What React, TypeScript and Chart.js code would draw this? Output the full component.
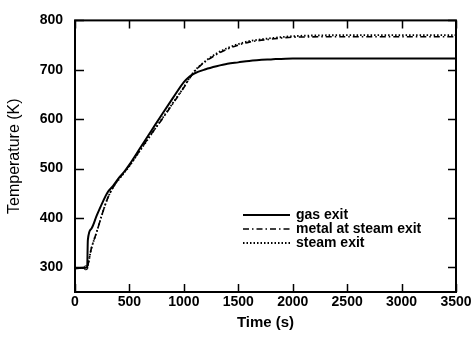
import React, { useEffect, useRef } from "react";
import { Chart, registerables } from "chart.js";

Chart.register(...registerables);

// ---- data ----
const gasTime = [0, 100, 112, 118, 150, 200, 250, 300, 350, 400, 450, 500, 600, 700, 800, 900, 1000, 1050, 1100, 1200, 1300, 1400, 1500, 1600, 1800, 2000, 2500, 3000, 3500];
const gasExit = [298, 299, 300, 355, 378, 405, 430, 452, 465, 480, 493, 508, 542, 576, 610, 643, 675, 686, 693, 701, 707, 712, 715, 718, 721, 723, 723, 723, 723];

const steamTime = [0, 100, 110, 150, 200, 250, 300, 350, 400, 500, 600, 700, 800, 900, 1000, 1050, 1100, 1200, 1300, 1400, 1500, 1600, 1800, 2000, 2500, 3000, 3500];
const metalAtSteamExit = [298, 299, 300, 338, 372, 408, 440, 462, 478, 506, 538, 570, 600, 632, 664, 682, 697, 717, 731, 742, 750, 756, 762, 766, 767, 767, 767];
const steamExit = [298, 299, 300, 338, 372, 408, 440, 462, 477, 505, 537, 569, 601, 633, 665, 683, 698, 718, 733, 744, 752, 758, 764, 768, 770, 770, 770];

const xTicks = [0, 500, 1000, 1500, 2000, 2500, 3000, 3500];
const yTicks = [300, 400, 500, 600, 700, 800];
const seriesLabels = ["gas exit", "metal at steam exit", "steam exit"];
const xTitle = "Time (s)";
const yTitle = "Temperature (K)";

const FONT = "'Liberation Sans', Arial, Helvetica, sans-serif";

const toXY = (xs: number[], ys: number[]) => xs.map((x, i) => ({ x, y: ys[i] }));

const framePlugin = {
  id: "frameAndLegend",
  beforeDraw(chart: any) {
    const { ctx, width, height } = chart;
    ctx.save();
    ctx.fillStyle = "#fff";
    ctx.fillRect(0, 0, width, height);
    ctx.restore();
  },
  afterDatasetsDraw(chart: any) {
    const { ctx, chartArea } = chart;
    const { left, right, top, bottom } = chartArea;
    const xs = chart.scales.x;
    const ys = chart.scales.y;
    ctx.save();
    ctx.strokeStyle = "#000";
    ctx.lineWidth = 2;
    ctx.strokeRect(left, top, right - left, bottom - top);
    ctx.lineWidth = 1.5;
    ctx.beginPath();
    xs.ticks.forEach((t: any) => {
      const px = Math.round(xs.getPixelForValue(t.value)) + 0.5;
      ctx.moveTo(px, bottom);
      ctx.lineTo(px, bottom - 8);
      ctx.moveTo(px, top);
      ctx.lineTo(px, top + 8);
    });
    ys.ticks.forEach((t: any) => {
      const py = Math.round(ys.getPixelForValue(t.value)) + 0.5;
      ctx.moveTo(left, py);
      ctx.lineTo(left + 9, py);
      ctx.moveTo(right, py);
      ctx.lineTo(right - 8, py);
    });
    ctx.stroke();

    // legend
    const lx0 = 243;
    const lx1 = 290;
    const ly0 = 215;
    const dy = 14;
    chart.data.datasets.forEach((ds: any, i: number) => {
      const y = ly0 + i * dy;
      ctx.beginPath();
      ctx.setLineDash(ds.borderDash || []);
      ctx.lineWidth = ds.borderWidth;
      ctx.strokeStyle = ds.borderColor;
      ctx.moveTo(lx0, y);
      ctx.lineTo(lx1, y);
      ctx.stroke();
      ctx.setLineDash([]);
      ctx.fillStyle = "#000";
      ctx.font = `bold 14px ${FONT}`;
      ctx.textBaseline = "middle";
      ctx.textAlign = "left";
      ctx.fillText(ds.label, 296, y);
    });
    ctx.restore();
  },
};

export default function App() {
  const ref = useRef<HTMLCanvasElement | null>(null);
  useEffect(() => {
    if (!ref.current) return;
    const chart = new Chart(ref.current, {
      type: "line",
      data: {
        datasets: [
          {
            label: seriesLabels[0],
            data: toXY(gasTime, gasExit),
            borderColor: "#000",
            borderWidth: 2,
            pointRadius: 0,
            cubicInterpolationMode: "monotone",
          },
          {
            label: seriesLabels[1],
            data: toXY(steamTime, metalAtSteamExit),
            borderColor: "#000",
            borderWidth: 1.6,
            borderDash: [6, 3, 1.5, 3],
            pointRadius: steamTime.map((_, i) => (i === 1 ? 2 : 0)),
            pointBackgroundColor: "#fff",
            pointBorderColor: "#000",
            pointBorderWidth: 1,
            cubicInterpolationMode: "monotone",
          },
          {
            label: seriesLabels[2],
            data: toXY(steamTime, steamExit),
            borderColor: "#000",
            borderWidth: 1.8,
            borderDash: [1.5, 2],
            pointRadius: 0,
            cubicInterpolationMode: "monotone",
          },
        ],
      } as any,
      options: {
        responsive: false,
        animation: false,
        devicePixelRatio: 1,
        layout: { padding: { top: 20, right: 20, left: 0, bottom: 0 } },
        plugins: { legend: { display: false }, tooltip: { enabled: false } },
        scales: {
          x: {
            type: "linear",
            min: 0,
            max: 3500,
            grid: { display: false, drawTicks: false },
            border: { display: false },
            afterBuildTicks: (s: any) => {
              s.ticks = xTicks.map((v) => ({ value: v }));
            },
            afterFit: (s: any) => {
              s.height = 47;
            },
            ticks: {
              color: "#000",
              padding: 2,
              maxRotation: 0,
              autoSkip: false,
              callback: (v: any) => String(v),
              font: { family: FONT, size: 14, weight: "bold" },
            },
            title: {
              display: true,
              text: xTitle,
              color: "#000",
              font: { family: FONT, size: 15, weight: "bold" },
              padding: { top: 0, bottom: 7 },
            },
          },
          y: {
            type: "linear",
            min: 250,
            max: 800,
            grid: { display: false, drawTicks: false },
            border: { display: false },
            afterBuildTicks: (s: any) => {
              s.ticks = yTicks.map((v) => ({ value: v }));
            },
            afterFit: (s: any) => {
              s.width = 75;
            },
            ticks: {
              color: "#000",
              padding: 12,
              autoSkip: false,
              callback: (v: any) => String(v),
              font: { family: FONT, size: 14, weight: "bold" },
            },
            title: {
              display: true,
              text: yTitle,
              color: "#000",
              font: { family: FONT, size: 16, weight: "normal" },
              padding: { top: 5, bottom: 0 },
            },
          },
        },
      } as any,
      plugins: [framePlugin],
    });
    return () => chart.destroy();
  }, []);
  return (
    <div style={{ position: "absolute", left: 0, top: 0, width: 476, height: 339 }}>
      <canvas ref={ref} width={476} height={339} style={{ display: "block" }} />
    </div>
  );
}
